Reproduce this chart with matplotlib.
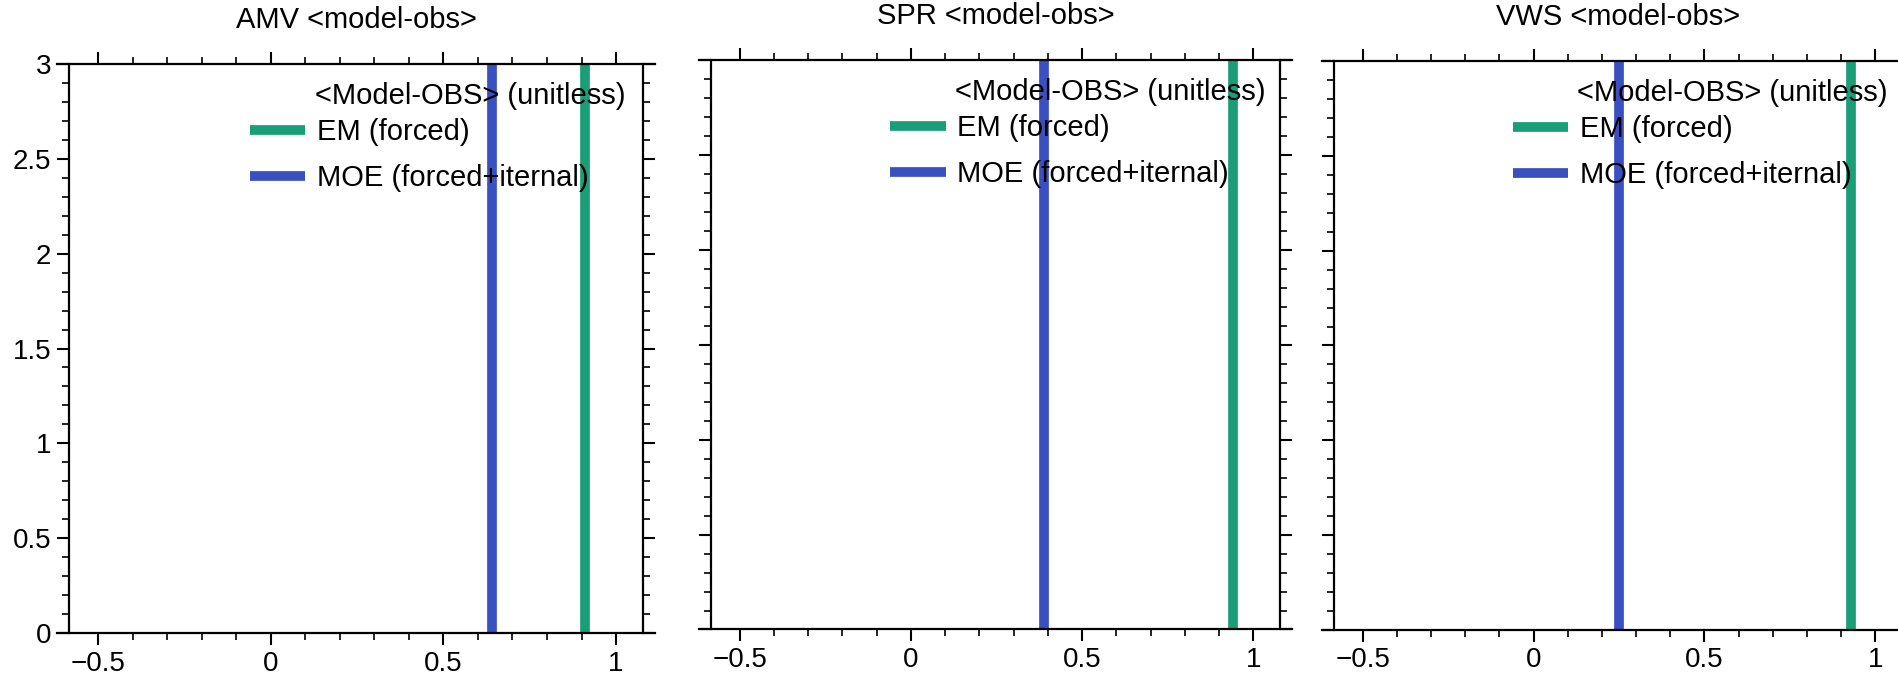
import numpy as np
import matplotlib
matplotlib.use('Agg')
import matplotlib.pyplot as plt
from matplotlib.ticker import MultipleLocator

plt.rcParams['font.family'] = ['Liberation Sans', 'DejaVu Sans']

# data
titles = ['AMV <model-obs>', 'SPR <model-obs>', 'VWS <model-obs>']
em_forced = [0.91, 0.94, 0.93]      # EM (forced)
moe_total = [0.64, 0.39, 0.25]      # MOE (forced+iternal)
legend_title = '<Model-OBS> (unitless)'
labels = ['EM (forced)', 'MOE (forced+iternal)']
colors = ['#1a9e77', '#3a4fc0']

xlim = (-0.584, 1.078)
ylim = (0, 3)

fig = plt.figure(figsize=(18.98, 6.75), dpi=100)
positions = [
    [0.03635, 0.06222, 0.30242, 0.84296],
    [0.37460, 0.06741, 0.29979, 0.84370],
    [0.70285, 0.06667, 0.29926, 0.84296],
]

fs = 21
for i, pos in enumerate(positions):
    ax = fig.add_axes(pos)
    ax.axvline(em_forced[i], color=colors[0], lw=7, label=labels[0], solid_capstyle='butt')
    ax.axvline(moe_total[i], color=colors[1], lw=7, label=labels[1], solid_capstyle='butt')
    ax.set_xlim(xlim)
    ax.set_ylim(ylim)

    ax.xaxis.set_major_locator(MultipleLocator(0.5))
    ax.xaxis.set_minor_locator(MultipleLocator(0.1))
    ax.yaxis.set_major_locator(MultipleLocator(0.5))
    ax.yaxis.set_minor_locator(MultipleLocator(0.1))
    ax.set_xticks([-0.5, 0, 0.5, 1])
    ax.set_xticklabels(['\u22120.5', '0', '0.5', '1'])
    ax.set_yticks([0, 0.5, 1, 1.5, 2, 2.5, 3])
    ax.set_yticklabels(['0', '0.5', '1', '1.5', '2', '2.5', '3'])
    ax.tick_params(which='both', direction='out', top=True, right=True,
                   labelsize=20, pad=4, width=1.5)
    ax.tick_params(which='major', length=8.6)
    ax.tick_params(which='minor', length=5, width=1.2)
    if i > 0:
        ax.tick_params(labelleft=False)

    for s in ax.spines.values():
        s.set_linewidth(1.6)
    ax.spines['bottom'].set_bounds(xlim[0] - 0.035, xlim[1] + 0.035)
    ax.spines['top'].set_bounds(xlim[0] - 0.035, xlim[1] + 0.035)

    ax.set_title(titles[i], fontsize=fs, y=1.0, pad=26)

    ax.text(0.428, 0.943, legend_title, transform=ax.transAxes,
            fontsize=fs, ha='left', va='center')
    ax.legend(loc='upper left', bbox_to_anchor=(0.315, 0.905), frameon=False,
              fontsize=fs, handlelength=1.9, handletextpad=0.4,
              borderpad=0, borderaxespad=0, labelspacing=0.62)

fig.savefig('out.png', dpi=100)
